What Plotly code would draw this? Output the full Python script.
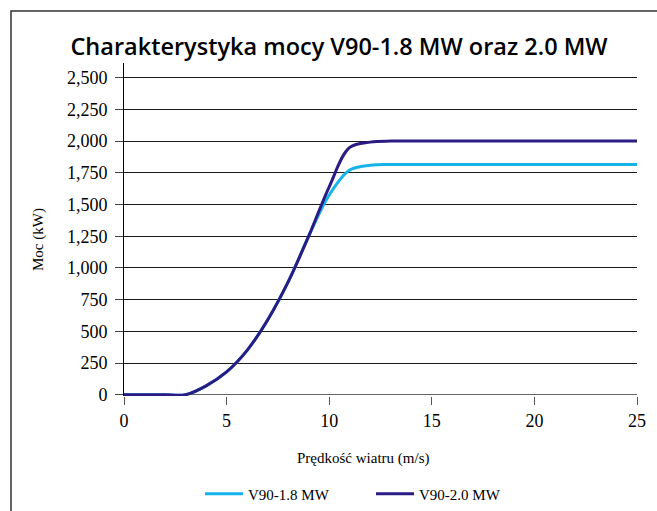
import plotly.graph_objects as go

wind = list(range(0, 26))
v18 = [0, 0, 0, 0, 70, 180, 350, 590, 890, 1250, 1575, 1772, 1810, 1815, 1815,
       1815, 1815, 1815, 1815, 1815, 1815, 1815, 1815, 1815, 1815, 1815]
v20 = [0, 0, 0, 0, 70, 180, 350, 590, 890, 1250, 1640, 1950, 1992, 2000, 2000,
       2000, 2000, 2000, 2000, 2000, 2000, 2000, 2000, 2000, 2000, 2000]
ytick_vals = [0, 250, 500, 750, 1000, 1250, 1500, 1750, 2000, 2250, 2500]
ytick_text = ["0", "250", "500", "750", "1,000", "1,250", "1,500", "1,750", "2,000", "2,250", "2,500"]
xtick_vals = [0, 5, 10, 15, 20, 25]

serif = "Liberation Serif, Times New Roman, serif"

fig = go.Figure()
fig.add_trace(go.Scatter(x=wind, y=v18, mode="lines", name="V90-1.8 MW",
                         line=dict(color="#14B4EA", width=3, shape="spline", smoothing=1.0)))
fig.add_trace(go.Scatter(x=wind, y=v20, mode="lines", name="V90-2.0 MW",
                         line=dict(color="#2B1C85", width=3, shape="spline", smoothing=1.0)))

fig.update_layout(
    width=657, height=511,
    margin=dict(l=124, r=20, t=63, b=115, autoexpand=False),
    paper_bgcolor="white", plot_bgcolor="white",
    title=dict(text="Charakterystyka mocy V90-1.8 MW oraz 2.0 MW",
               x=339 / 657, xref="container", xanchor="center",
               y=1 - 47 / 511, yref="container", yanchor="middle",
               font=dict(family="Open Sans, sans-serif", size=23.5, color="black", weight=600)),
    showlegend=True,
    legend=dict(orientation="h", x=(200 - 124) / 513, xanchor="left",
                y=(396 - 494) / 333, yanchor="middle",
                font=dict(family=serif, size=15, color="black"),
                bgcolor="rgba(0,0,0,0)", itemwidth=38,
                entrywidth=118, entrywidthmode="pixels"),
    xaxis=dict(range=[0, 25], tickvals=xtick_vals, showgrid=False, zeroline=False,
               showline=False, ticks="outside", ticklen=8, tickcolor="#555",
               tickfont=dict(family=serif, size=18, color="black")),
    yaxis=dict(range=[-10, 2616], tickvals=ytick_vals, ticktext=ytick_text,
               showgrid=True, gridcolor="#1a1a1a", gridwidth=1,
               zeroline=True, zerolinecolor="#666", zerolinewidth=1,
               showline=True, linecolor="black", linewidth=1,
               ticks="outside", ticklen=8, tickcolor="#444", ticklabelstandoff=4,
               tickfont=dict(family=serif, size=18, color="black")),
    annotations=[
        dict(text="Prędkość wiatru (m/s)", xref="paper", yref="paper",
             x=(363 - 124) / 513, y=(396 - 458) / 333, xanchor="center", yanchor="middle",
             showarrow=False, font=dict(family=serif, size=15, color="black")),
        dict(text="Moc (kW)", xref="paper", yref="paper",
             x=(38 - 124) / 513, y=(396 - 240) / 333, xanchor="center", yanchor="middle",
             textangle=-90,
             showarrow=False, font=dict(family=serif, size=15, color="black")),
    ],
    shapes=[dict(type="rect", xref="paper", yref="paper",
                 x0=(11 - 124) / 513, x1=1.2, y0=-0.6, y1=(396 - 11) / 333,
                 line=dict(color="#333", width=1.5), layer="below")],
)

fig.write_html("out.html", config={"displayModeBar": False},
               post_script="document.body.style.margin='0';")
